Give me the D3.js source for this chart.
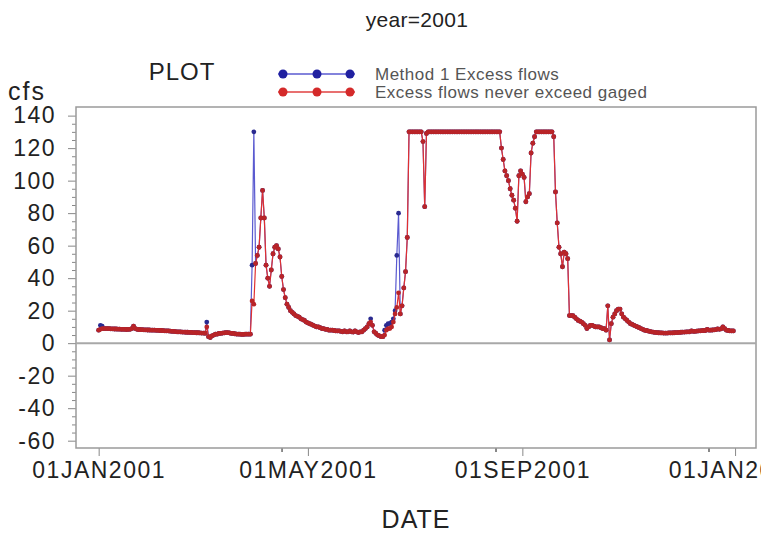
<!DOCTYPE html>
<html>
<head>
<meta charset="utf-8">
<script src="https://cdn.jsdelivr.net/npm/d3@7/dist/d3.min.js"></script>
<style>
  html, body { margin: 0; padding: 0; background: #fff; }
  svg { display: block; font-family: "Liberation Sans", Arial, sans-serif; }
</style>
</head>
<body>
<svg width="761" height="533"></svg>
<script>
// daily excess flows (cfs) for 2001, one array per month
const jan = [8, 8.5, 9, 9, 9, 9, 9, 8.8, 8.8, 8.7, 8.7, 8.6, 8.6, 8.5, 8.5, 8.5, 8.4, 8.5, 8.5, 9, 10.5, 9, 8.5, 8.4, 8.3, 8.3, 8.2, 8.2, 8.1, 8.1, 8];
const feb = [8, 8, 7.9, 7.9, 7.8, 7.8, 7.7, 7.6, 7.6, 7.5, 7.4, 7.3, 7.2, 7.1, 7, 7, 6.9, 6.8, 6.8, 6.7, 6.7, 6.6, 6.6, 6.5, 6.5, 6.4, 6.4, 6.3];
const mar = [6.2, 6.2, 6.1, 10, 4, 3.5, 4.5, 5, 5.5, 5.5, 6, 6, 6.2, 6.3, 6.5, 6.5, 6.3, 6, 6, 5.8, 5.6, 5.5, 5.5, 5.4, 5.4, 5.5, 5.5, 5.5, 5.5, 26, 24];
const apr = [49, 54, 59, 77, 94, 77, 48, 40, 35, 45, 55, 59, 60, 58, 53, 41, 33, 28, 24, 22, 20, 19, 18, 17, 16.5, 16, 15, 14.5, 14, 13];
const may = [12.5, 12, 11.5, 11, 10.5, 10, 10, 9.5, 9, 9, 8.5, 8.5, 8, 8, 8, 7.8, 7.5, 7.5, 7.5, 7.2, 7, 7.5, 7, 7, 7.5, 7, 6.8, 7.5, 7, 6.5, 7];
const jun = [7, 8, 9, 10, 12, 13, 11, 7, 6, 5, 4.5, 4, 4, 5, 8, 9, 9, 10, 13, 18, 22, 31, 18, 23, 34, 44, 65, 130, 130, 130];
const jul = [130, 130, 130, 130, 130, 124, 84, 129, 130, 130, 130, 130, 130, 130, 130, 130, 130, 130, 130, 130, 130, 130, 130, 130, 130, 130, 130, 130, 130, 130, 130];
const aug = [130, 130, 130, 130, 130, 130, 130, 130, 130, 130, 130, 130, 130, 130, 130, 130, 130, 130, 130, 120, 113, 106, 103, 100, 95, 91, 88, 83, 75, 103, 106];
const sep = [104, 102, 87, 90, 92, 117, 123, 127, 130, 130, 130, 130, 130, 130, 130, 130, 130, 130, 127, 93, 74, 59, 55, 47, 56, 55, 52, 17, 17, 17];
const oct = [16, 15, 14, 13.5, 13, 12, 11, 9, 10, 11, 11, 10.5, 10, 10, 10, 9.5, 9, 9, 8, 23, 2, 12, 16, 18, 20, 21, 21, 18, 16, 15, 14];
const nov = [13, 12, 11.5, 11, 10.5, 10, 9.5, 9, 8.5, 8, 7.8, 7.5, 7.2, 7, 6.8, 6.6, 6.5, 6.4, 6.3, 6.3, 6.2, 6.2, 6.2, 6.3, 6.3, 6.3, 6.4, 6.5, 6.5, 6.6];
const dec = [6.7, 6.8, 6.8, 6.9, 7, 7, 7.6, 7.2, 7.3, 7.4, 7.5, 7.6, 7.7, 7.8, 7.8, 8.4, 8, 8, 8.1, 8.2, 8.3, 8.8, 8.5, 8.8, 10, 9, 8, 7.8, 7.6, 7.5, 7.5];
const months = [jan, feb, mar, apr, may, jun, jul, aug, sep, oct, nov, dec];

// days where Method 1 is higher than the capped series
const method1Diffs = [
  ['2001-01-02', 11], ['2001-01-03', 10.5],
  ['2001-03-04', 13],
  ['2001-03-30', 48], ['2001-03-31', 130],
  ['2001-06-06', 15],
  ['2001-06-14', 8], ['2001-06-15', 11], ['2001-06-16', 12], ['2001-06-17', 12],
  ['2001-06-18', 13], ['2001-06-19', 15], ['2001-06-20', 20], ['2001-06-21', 54], ['2001-06-22', 80]
];

const yTicks = d3.range(-60, 141, 20);
const xTickDates = [new Date(2001, 0, 1), new Date(2001, 4, 1), new Date(2001, 8, 1), new Date(2002, 0, 1)];

const svg = d3.select('svg');
const red = '#d42a2a', blue = '#2020a0';

// build the two series
const excess = [];
months.forEach((vals, m) => vals.forEach((v, i) => excess.push({ date: new Date(2001, m, i + 1), value: v })));
const key = d3.timeFormat('%Y-%m-%d');
const diffMap = new Map(method1Diffs);
const method1 = excess.map(d => ({ date: d.date, value: diffMap.has(key(d.date)) ? diffMap.get(key(d.date)) : d.value }));

// plot frame
const plotL = 76, plotR = 756, plotT = 107, plotB = 448;

const x = d3.scaleTime()
    .domain([new Date(2000, 11, 19), new Date(2002, 0, 13)])
    .range([plotL, plotR]);
const y = d3.scaleLinear()
    .domain([-64.5, 145.3])
    .range([plotB, plotT]);

// title, labels
svg.append('text').attr('x', 417).attr('y', 27).attr('text-anchor', 'middle')
    .style('font-size', '21px').style('letter-spacing', '0.3px').attr('fill', '#222').text('year=2001');
svg.append('text').attr('x', 182).attr('y', 80).attr('text-anchor', 'middle')
    .style('font-size', '24px').style('letter-spacing', '1px').attr('fill', '#222').text('PLOT');
svg.append('text').attr('x', 8).attr('y', 100)
    .style('font-size', '25px').style('letter-spacing', '2px').attr('fill', '#222').text('cfs');
svg.append('text').attr('x', 416).attr('y', 528).attr('text-anchor', 'middle')
    .style('font-size', '25px').style('letter-spacing', '1px').attr('fill', '#222').text('DATE');

// legend
const legend = [
  { label: 'Method 1 Excess flows', color: blue, line: '#5a5ad0', y: 74 },
  { label: 'Excess flows never exceed gaged', color: red, line: '#e04040', y: 92 }
];
const lg = svg.append('g');
legend.forEach(l => {
  lg.append('line').attr('x1', 278).attr('x2', 355).attr('y1', l.y).attr('y2', l.y)
      .attr('stroke', l.line).attr('stroke-width', 1.5);
  [283, 317, 350].forEach(cx => lg.append('circle').attr('cx', cx).attr('cy', l.y).attr('r', 4.5).attr('fill', l.color));
  lg.append('text').attr('x', 375).attr('y', l.y + 6).style('font-size', '17px')
      .style('letter-spacing', '0.5px').attr('fill', '#555').text(l.label);
});

// axes
const styleTicks = sel => sel.style('font-size', '23px').style('letter-spacing', '1.5px')
    .style('font-family', 'Liberation Sans, Arial, sans-serif').attr('fill', '#222');
const yAxis = svg.append('g').attr('transform', `translate(${plotL},0)`)
    .call(d3.axisLeft(y).tickValues(yTicks).tickFormat(d => String(d)).tickSize(8).tickPadding(12));
yAxis.select('.domain').remove();
yAxis.selectAll('line').attr('stroke', '#888');
yAxis.selectAll('text').call(styleTicks);
svg.append('g').attr('transform', `translate(${plotL},0)`)
    .call(d3.axisLeft(y).tickValues(d3.range(-60, 141, 5).filter(v => v % 20 !== 0)).tickSize(4).tickFormat(''))
    .call(g => g.select('.domain').remove())
    .selectAll('line').attr('stroke', '#888');

const fmt = d3.timeFormat('%d%b%Y');
const xAxis = svg.append('g').attr('transform', `translate(0,${plotB})`)
    .call(d3.axisBottom(x).tickValues(xTickDates).tickFormat(d => fmt(d).toUpperCase()).tickSize(8).tickPadding(6));
xAxis.select('.domain').remove();
xAxis.selectAll('line').attr('stroke', '#888');
xAxis.selectAll('text').call(styleTicks);

const minorDates = [];
for (let i = 0; i < xTickDates.length - 1; i++) {
  const it = d3.interpolateDate(xTickDates[i], xTickDates[i + 1]);
  for (let k = 1; k < 8; k++) minorDates.push(it(k / 8));
}
svg.append('g').attr('transform', `translate(0,${plotB})`)
    .call(d3.axisBottom(x).tickValues(minorDates).tickSize(4).tickFormat(''))
    .call(g => g.select('.domain').remove())
    .selectAll('line').attr('stroke', '#888');

// frame and zero reference
svg.append('rect').attr('x', plotL).attr('y', plotT).attr('width', plotR - plotL).attr('height', plotB - plotT)
    .attr('fill', 'none').attr('stroke', '#9a9a9a').attr('stroke-width', 1.5);
svg.append('line').attr('x1', plotL).attr('x2', plotR).attr('y1', y(0)).attr('y2', y(0))
    .attr('stroke', '#a8a8a8').attr('stroke-width', 2);

// series
const line = d3.line().x(d => x(d.date)).y(d => y(d.value));
const drawSeries = (data, lineColor, dotColor) => {
  const g = svg.append('g');
  g.append('path').datum(data).attr('d', line).attr('fill', 'none')
      .attr('stroke', lineColor).attr('stroke-width', 1.2);
  g.selectAll('circle').data(data).enter().append('circle')
      .attr('cx', d => x(d.date)).attr('cy', d => y(d.value)).attr('r', 2.4)
      .attr('fill', dotColor);
};
drawSeries(method1, '#5a5ad0', '#2a2a90');
drawSeries(excess, '#e03030', '#b82428');
</script>
</body>
</html>
